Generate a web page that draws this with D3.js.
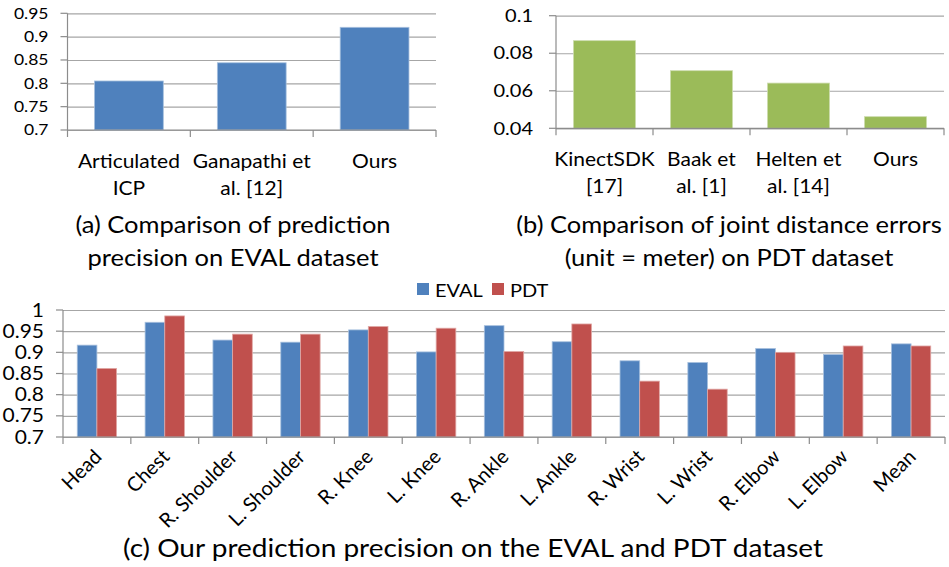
<!DOCTYPE html>
<html>
<head>
<meta charset="utf-8">
<script src="https://cdn.jsdelivr.net/npm/d3@7"></script>
<style>
  body { margin: 0; background: #fff; }
  svg text { font-family: Lato, "Open Sans", sans-serif; fill: #000; }
  .grid line { stroke: #a6a6a6; stroke-width: 1.2; }
  .grid .domain { display: none; }
  .axis line { stroke: #8c8c8c; stroke-width: 1.2; }
</style>
</head>
<body>
<svg id="chart" width="949" height="567"></svg>
<script>
// panel (a)
var methodsA = [["Articulated", "ICP"], ["Ganapathi et", "al. [12]"], ["Ours"]];
var precisionA = [0.805, 0.844, 0.920];
var ticksA = [0.7, 0.75, 0.8, 0.85, 0.9, 0.95];

// panel (b)
var methodsB = [["KinectSDK", "[17]"], ["Baak et", "al. [1]"], ["Helten et", "al. [14]"], ["Ours"]];
var errorB = [0.0867, 0.0707, 0.0641, 0.0462];
var ticksB = [0.04, 0.06, 0.08, 0.1];

// panel (c)
var joints = ["Head", "Chest", "R. Shoulder", "L. Shoulder", "R. Knee", "L. Knee", "R. Ankle",
              "L. Ankle", "R. Wrist", "L. Wrist", "R. Elbow", "L. Elbow", "Mean"];
var evalVals = [0.917, 0.971, 0.929, 0.924, 0.953, 0.901, 0.963, 0.925, 0.880, 0.876, 0.909, 0.895, 0.920];
var pdtVals  = [0.862, 0.986, 0.943, 0.943, 0.961, 0.957, 0.902, 0.967, 0.832, 0.813, 0.900, 0.915, 0.915];
var seriesNames = ["EVAL", "PDT"];
var ticksC = [0.7, 0.75, 0.8, 0.85, 0.9, 0.95, 1];

var blue = "#4f81bd", red = "#c0504d", green = "#9bbb59";
var S = 1.15; // the original figure is a bit stretched sideways
var svg = d3.select("#chart");

// text with horizontal stretch; size is the "apparent" width-matched size
function txt(g, x, y, s, size, anchor, extra) {
  return g.append("text")
    .attr("transform", "translate(" + x + "," + y + ") scale(" + S + ",1)" + (extra || ""))
    .attr("text-anchor", anchor || "middle")
    .style("font-size", (size / S) + "px")
    .text(s);
}

function panel(opts) {
  var g = svg.append("g");
  var x = d3.scaleBand().domain(d3.range(opts.n)).range([opts.x0, opts.x1]);
  var y = d3.scaleLinear().domain(opts.domain).range([opts.y1, opts.y0]);

  g.append("g").attr("class", "grid")
    .attr("transform", "translate(" + opts.x0 + ",0)")
    .call(d3.axisRight(y).tickValues(opts.ticks).tickSize(opts.x1 - opts.x0).tickFormat(""));

  var ax = g.append("g").attr("class", "axis");
  ax.append("line").attr("x1", opts.x0).attr("x2", opts.x0).attr("y1", opts.y0).attr("y2", opts.y1);
  ax.selectAll(".ytk").data(opts.ticks).enter().append("line")
    .attr("x1", opts.x0 - 7).attr("x2", opts.x0)
    .attr("y1", function (d) { return y(d); }).attr("y2", function (d) { return y(d); });

  opts.ticks.forEach(function (d) {
    txt(g, opts.x0 - opts.labGap, y(d), String(d), opts.tickFont, "end").attr("dy", "0.36em");
  });

  return { g: g, x: x, y: y };
}

function xaxis(p, opts) {
  // category boundary ticks
  var bounds = d3.range(opts.n + 1).map(function (i) { return opts.x0 + i * p.x.step(); });
  var ax = p.g.append("g").attr("class", "axis");
  ax.append("line").attr("x1", opts.x0).attr("x2", opts.x1)
    .attr("y1", opts.y1).attr("y2", opts.y1);
  ax.selectAll(".tk").data(bounds).enter().append("line")
    .attr("x1", function (d) { return d; }).attr("x2", function (d) { return d; })
    .attr("y1", opts.y1).attr("y2", opts.y1 + 7);
}

// ---------- (a)
var optA = { n: 3, x0: 67.5, x1: 436, y0: 13.3, y1: 130, domain: [0.7, 0.95], ticks: ticksA, tickFont: 17.5, labGap: 19 };
var pa = panel(optA);
pa.x.paddingInner(0.44).paddingOuter(0.22);
pa.g.selectAll(".bar").data(precisionA).enter().append("rect")
  .attr("x", function (d, i) { return pa.x(i); })
  .attr("width", pa.x.bandwidth())
  .attr("y", function (d) { return pa.y(d); })
  .attr("height", function (d) { return pa.y(0.7) - pa.y(d); })
  .attr("fill", blue).attr("stroke", "#a7c0de").attr("stroke-width", 0.8);
pa.x.paddingInner(0).paddingOuter(0);
xaxis(pa, optA);
methodsA.forEach(function (lines, i) {
  lines.forEach(function (s, j) {
    txt(pa.g, pa.x(i) + pa.x.bandwidth() / 2, 168 + j * 27, s, 21);
  });
});
["(a) Comparison of prediction", "precision on EVAL dataset"].forEach(function (s, j) {
  txt(svg, 233, 233 + j * 33, s, 25.5);
});

// ---------- (b)
var optB = { n: 4, x0: 556, x1: 944, y0: 15.7, y1: 128.3, domain: [0.04, 0.1], ticks: ticksB, tickFont: 20, labGap: 23 };
var pb = panel(optB);
pb.x.paddingInner(0.36).paddingOuter(0.18);
pb.g.selectAll(".bar").data(errorB).enter().append("rect")
  .attr("x", function (d, i) { return pb.x(i); })
  .attr("width", pb.x.bandwidth())
  .attr("y", function (d) { return pb.y(d); })
  .attr("height", function (d) { return pb.y(0.04) - pb.y(d); })
  .attr("fill", green).attr("stroke", "#cddcae").attr("stroke-width", 0.8);
pb.x.paddingInner(0).paddingOuter(0);
xaxis(pb, optB);
methodsB.forEach(function (lines, i) {
  lines.forEach(function (s, j) {
    txt(pb.g, pb.x(i) + pb.x.bandwidth() / 2, 166 + j * 27, s, 21);
  });
});
["(b) Comparison of joint distance errors", "(unit = meter) on PDT dataset"].forEach(function (s, j) {
  txt(svg, 729, 233 + j * 33, s, 25.5);
});

// ---------- (c)
var optC = { n: 13, x0: 63, x1: 945, y0: 310, y1: 437, domain: [0.7, 1], ticks: ticksC, tickFont: 21, labGap: 19 };
var pc = panel(optC);
var step = pc.x.step();
var barW = step * 0.29;
var groups = pc.g.selectAll(".grp").data(joints).enter().append("g")
  .attr("transform", function (d, i) { return "translate(" + (optC.x0 + i * step + step / 2) + ",0)"; });
[evalVals, pdtVals].forEach(function (vals, s) {
  groups.append("rect")
    .attr("x", s === 0 ? -barW : 0)
    .attr("width", barW)
    .attr("y", function (d, i) { return pc.y(vals[i]); })
    .attr("height", function (d, i) { return pc.y(0.7) - pc.y(vals[i]); })
    .attr("fill", s === 0 ? blue : red)
    .attr("stroke", s === 0 ? "#a7c0de" : "#e0a8a6").attr("stroke-width", 0.8);
});
xaxis(pc, optC);
groups.append("text")
  .attr("transform", "translate(6,458) rotate(-45)")
  .attr("text-anchor", "end")
  .style("font-size", "20px")
  .text(function (d) { return d; });

// legend
var leg = svg.append("g");
var legX = [417, 492];
seriesNames.forEach(function (s, i) {
  leg.append("rect").attr("x", legX[i]).attr("y", 283).attr("width", 12).attr("height", 12)
    .attr("fill", i === 0 ? blue : red);
  txt(leg, legX[i] + 18, 297, s, 20, "start");
});

txt(svg, 473, 557, "(c) Our prediction precision on the EVAL and PDT dataset", 28);
</script>
</body>
</html>
